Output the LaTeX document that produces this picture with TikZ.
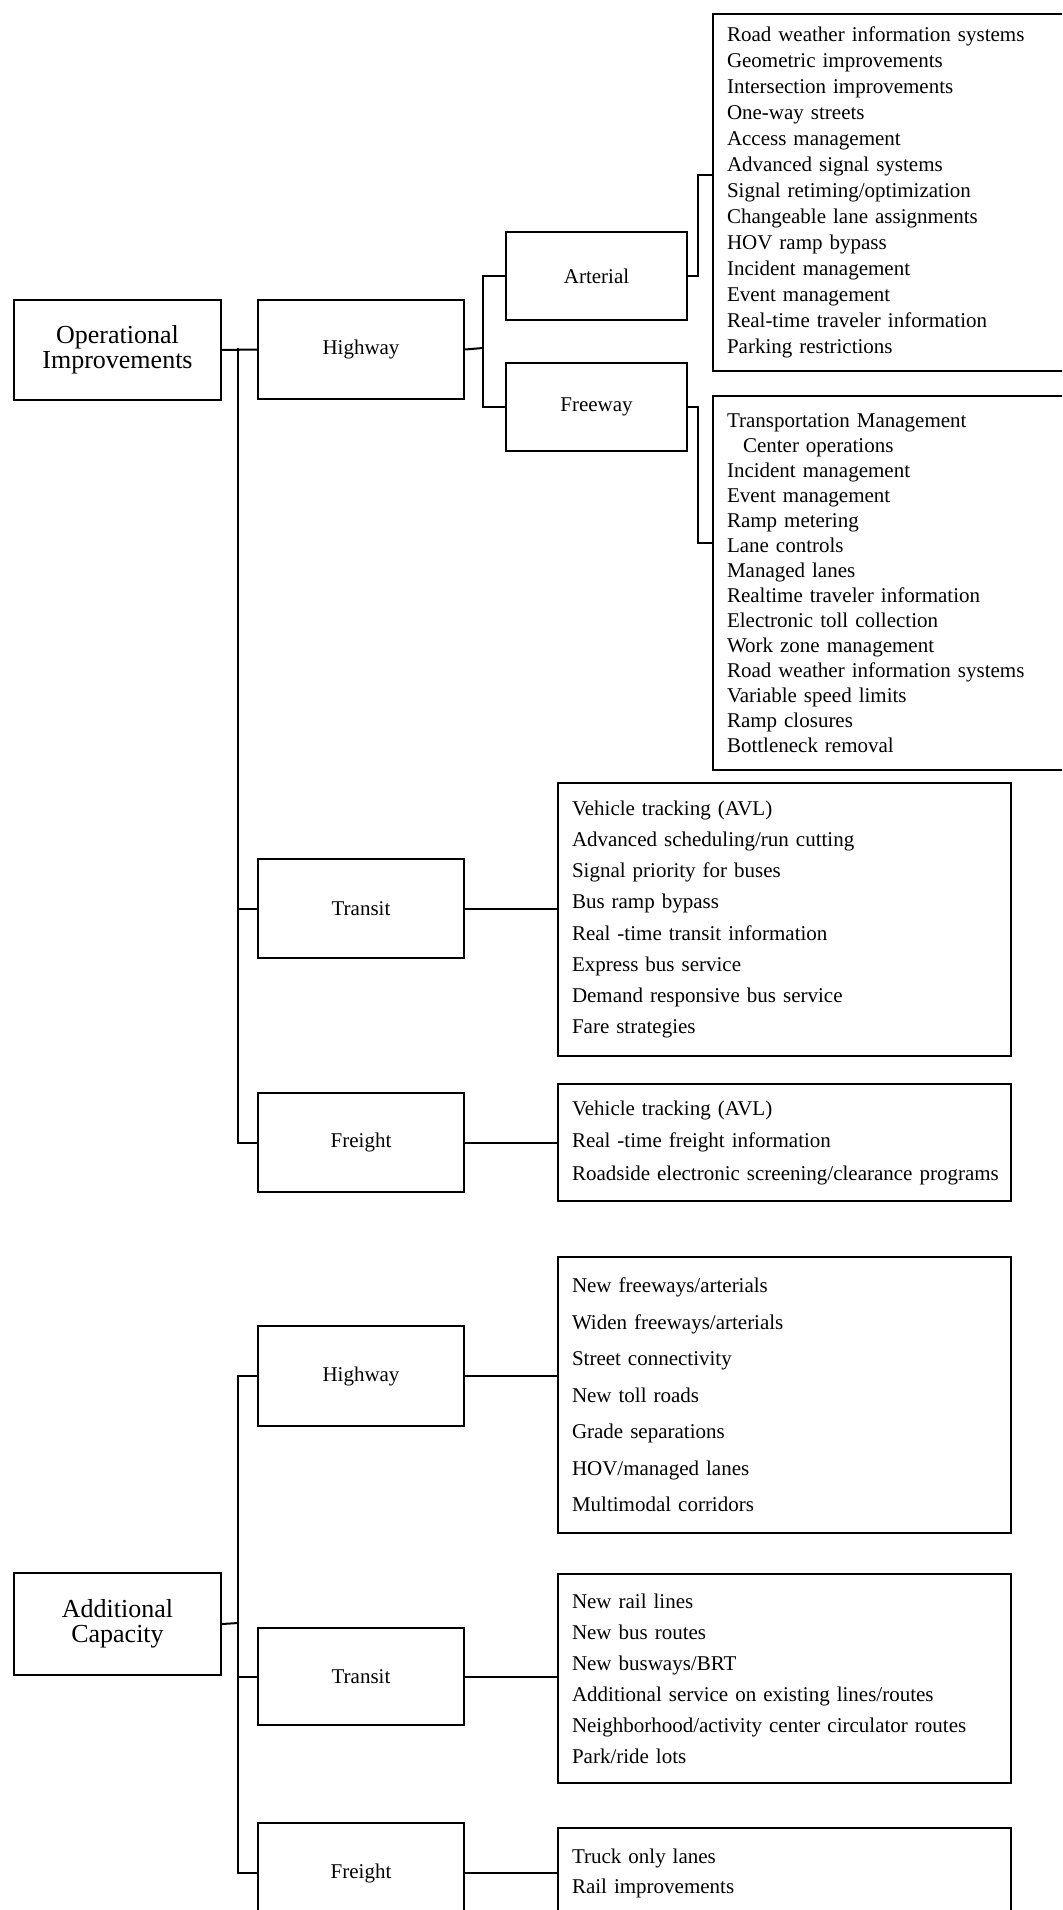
\documentclass[tikz,border=0pt]{standalone}
\usepackage{fontspec}
\setmainfont{Liberation Serif}
\usepackage{tikz}

\begin{document}
\begin{tikzpicture}[x=0.5pt, y=-0.5pt,
    box/.style={draw, line width=1pt, anchor=north west, inner sep=0pt},
    rootbox/.style={box, minimum width=103.5pt, minimum height=50pt, align=center, font=\fontsize{13}{12.5}\selectfont},
    catbox/.style={box, minimum width=103pt, minimum height=49.5pt, font=\fontsize{10.5}{12}\selectfont},
    subbox/.style={box, minimum width=90.5pt, minimum height=44pt, font=\fontsize{10.5}{12}\selectfont},
    listbox/.style={box, align=left, inner xsep=7pt, inner ysep=2pt},
    longlist/.style={listbox, minimum width=190pt, text width=176pt},
    widelist/.style={listbox, minimum width=226.5pt, text width=212.5pt},
    link/.style={line width=1pt}]
    \useasboundingbox (0,0) rectangle (1062,1910);
    \fill[white] (0,0) rectangle (1062,1910);
    \clip (0,0) rectangle (1062,1910);

    % Operational improvements branch
    \node[rootbox] (oi) at (13,299) {Operational\\Improvements};
    \node[catbox] (oihw) at (257,299) {Highway};
    \node[subbox] (art) at (505,231) {Arterial};
    \node[subbox] (fwy) at (505,362) {Freeway};
    \node[catbox] (oitr) at (257,858) {Transit};
    \node[catbox] (oifr) at (257,1092) {Freight};

    \node[longlist, minimum height=178.5pt, font=\fontsize{10.5}{13}\selectfont] (artlist) at (712,13) {Road weather information systems\\
        Geometric improvements\\ Intersection improvements\\ One-way streets\\
        Access management\\ Advanced signal systems\\ Signal retiming/optimization\\
        Changeable lane assignments\\ HOV ramp bypass\\ Incident management\\
        Event management\\ Real-time traveler information\\ Parking restrictions};
    \node[longlist, minimum height=187pt, font=\fontsize{10.5}{12.5}\selectfont] (fwylist) at (712,395) {Transportation Management\\
        \hspace*{8pt}Center operations\\ Incident management\\ Event management\\
        Ramp metering\\ Lane controls\\ Managed lanes\\ Realtime traveler information\\
        Electronic toll collection\\ Work zone management\\ Road weather information systems\\
        Variable speed limits\\ Ramp closures\\ Bottleneck removal};
    \node[widelist, minimum height=136.5pt, font=\fontsize{10.5}{15.6}\selectfont] (trlist) at (557,782) {Vehicle tracking (AVL)\\
        Advanced scheduling/run cutting\\ Signal priority for buses\\ Bus ramp bypass\\
        Real -time transit information\\ Express bus service\\
        Demand responsive bus service\\ Fare strategies};
    \node[widelist, minimum height=58.5pt, font=\fontsize{10.5}{16.25}\selectfont] (frlist) at (557,1083) {Vehicle tracking (AVL)\\
        Real -time freight information\\ \mbox{Roadside electronic screening/clearance programs}};

    % Additional capacity branch
    \node[rootbox, minimum height=51pt] (ac) at (13,1572) {Additional\\Capacity};
    \node[catbox, minimum height=50pt] (achw) at (257,1325) {Highway};
    \node[catbox, minimum height=48.5pt] (actr) at (257,1627) {Transit};
    \node[catbox, minimum height=50pt] (acfr) at (257,1822) {Freight};

    \node[widelist, minimum height=138pt, font=\fontsize{10.5}{18.25}\selectfont] (hwlist) at (557,1256) {New freeways/arterials\\
        Widen freeways/arterials\\ Street connectivity\\ New toll roads\\
        Grade separations\\ HOV/managed lanes\\ Multimodal corridors};
    \node[widelist, minimum height=104.5pt, font=\fontsize{10.5}{15.5}\selectfont] (trlistb) at (557,1573) {New rail lines\\
        New bus routes\\ New busways/BRT\\ Additional service on existing lines/routes\\
        Neighborhood/activity center circulator routes\\ Park/ride lots};
    \node[widelist, minimum height=45pt, font=\fontsize{10.5}{15}\selectfont] (frlistb) at (557,1827) {Truck only lanes\\
        Rail improvements};

    % Tree connectors
    \coordinate (oitrunk) at (238,348);
    \coordinate (hwfork) at (483,348);
    \coordinate (artbr) at (698,175);
    \coordinate (fwybr) at (698,543);
    \coordinate (actrunk) at (238,1623);

    \draw[link] (oi.east) -- (oihw.west);
    \draw[link] (oitrunk) |- (oitr.west);
    \draw[link] (oitrunk) |- (oifr.west);
    \draw[link] (oihw.east) -- (hwfork);
    \draw[link] (hwfork) |- (art.west);
    \draw[link] (hwfork) |- (fwy.west);
    \draw[link] (art.east) -| (artbr) -- (artbr -| artlist.west);
    \draw[link] (fwy.east) -| (fwybr) -- (fwybr -| fwylist.west);
    \draw[link] (oitr.east) -- (oitr.east -| trlist.west);
    \draw[link] (oifr.east) -- (oifr.east -| frlist.west);

    \draw[link] (ac.east) -- (actrunk);
    \draw[link] (actrunk) |- (achw.west);
    \draw[link] (actrunk) |- (actr.west);
    \draw[link] (actrunk) |- (acfr.west);
    \draw[link] (achw.east) -- (achw.east -| hwlist.west);
    \draw[link] (actr.east) -- (actr.east -| trlistb.west);
    \draw[link] (acfr.east) -- (acfr.east -| frlistb.west);
\end{tikzpicture}
\end{document}
